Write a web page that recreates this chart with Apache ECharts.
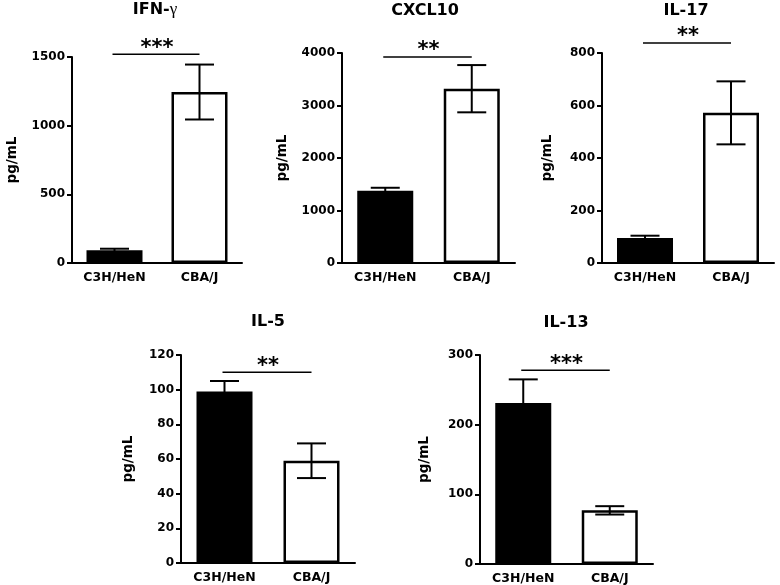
<!DOCTYPE html>
<html>
<head>
<meta charset="utf-8">
<script src="https://cdn.jsdelivr.net/npm/echarts@6/dist/echarts.min.js"></script>
<style>
html,body{margin:0;padding:0;background:#fff;}
#chart{width:780px;height:585px;}
</style>
</head>
<body>
<div id="chart"></div>
<script>
// ---- data ----
const categories = ['C3H/HeN', 'CBA/J'];
const panelTitles = ['IFN-{g|γ}', 'CXCL10', 'IL-17', 'IL-5', 'IL-13'];
const yAxisName = 'pg/mL';

const ifnMean = [92, 1245];
const ifnErr = [12, 200];
const cxclMean = [1375, 3320];
const cxclErr = [58, 450];
const il17Mean = [95, 572];
const il17Err = [9, 120];
const il5Mean = [99, 59];
const il5Err = [6, 10];
const il13Mean = [231, 77];
const il13Err = [34, 6];

const yMax = [1500, 4000, 800, 120, 300];
const yInterval = [500, 1000, 200, 20, 100];
const sigLabels = ['***', '**', '**', '**', '***'];
const sigLevel = [1520, 3924, 838, 110, 278];

// ---- layout ----
const means = [ifnMean, cxclMean, il17Mean, il5Mean, il13Mean];
const errs = [ifnErr, cxclErr, il17Err, il5Err, il13Err];
const grids = [
  {left: 72, top: 57, width: 170, height: 206},
  {left: 342, top: 53, width: 173, height: 210},
  {left: 602, top: 53, width: 172, height: 210},
  {left: 181, top: 355, width: 174, height: 208},
  {left: 480, top: 355, width: 173, height: 209}
];
const titleCenters = [[155, 10], [425, 12], [686, 12], [268, 323], [566, 324]];
const nameGaps = [53, 53, 48, 46, 49];

const FONT = 'DejaVu Sans';

const option = {
  animation: false,
  backgroundColor: '#fff',
  title: panelTitles.map((t, i) => ({
    text: t,
    left: titleCenters[i][0],
    top: titleCenters[i][1] - 9,
    textAlign: 'center',
    padding: 0,
    textStyle: {
      fontFamily: FONT, fontWeight: 'bold', fontSize: 16, color: '#000',
      rich: {g: {fontFamily: 'Liberation Serif', fontWeight: 'normal', fontSize: 17, color: '#000'}}
    }
  })),
  grid: grids.map(g => Object.assign({containLabel: false}, g)),
  xAxis: grids.map((g, i) => ({
    type: 'category',
    gridIndex: i,
    data: categories,
    axisLine: {lineStyle: {color: '#000', width: 2}},
    axisTick: {alignWithLabel: true, length: 5, lineStyle: {color: '#000', width: 2}},
    axisLabel: {color: '#000', fontFamily: FONT, fontWeight: 'bold', fontSize: 12.5, margin: 8},
    splitLine: {show: false}
  })),
  yAxis: grids.map((g, i) => ({
    type: 'value',
    gridIndex: i,
    min: 0,
    max: yMax[i],
    interval: yInterval[i],
    name: yAxisName,
    nameLocation: 'middle',
    nameGap: nameGaps[i],
    nameTextStyle: {color: '#000', fontFamily: FONT, fontWeight: 'bold', fontSize: 13.5},
    axisLine: {show: true, lineStyle: {color: '#000', width: 2}},
    axisTick: {show: true, length: 5, lineStyle: {color: '#000', width: 2}},
    axisLabel: {color: '#000', fontFamily: FONT, fontWeight: 'bold', fontSize: 12, margin: 7,
      formatter: v => String(v)},
    splitLine: {show: false}
  })),
  series: []
};

means.forEach((m, i) => {
  option.series.push({
    type: 'bar',
    xAxisIndex: i, yAxisIndex: i,
    barWidth: 56,
    data: m.map((v, j) => ({
      value: v,
      itemStyle: {color: j === 0 ? '#000' : '#fff', borderColor: '#000', borderWidth: 2.5}
    }))
  });
  option.series.push({
    type: 'custom',
    xAxisIndex: i, yAxisIndex: i,
    clip: false,
    z: 5,
    encode: {x: 0, y: 1},
    data: m.map((v, j) => [j, v, errs[i][j]]),
    renderItem: function (params, api) {
      const x = api.value(0), mv = api.value(1), e = api.value(2);
      const top = api.coord([x, mv + e]);
      const bot = api.coord([x, mv - e]);
      const half = 14.5;
      const st = {stroke: '#000', lineWidth: 2, fill: null};
      return {
        type: 'group',
        children: [
          {type: 'line', shape: {x1: top[0], y1: top[1], x2: bot[0], y2: bot[1]}, style: st},
          {type: 'line', shape: {x1: top[0] - half, y1: top[1], x2: top[0] + half, y2: top[1]}, style: st},
          {type: 'line', shape: {x1: bot[0] - half, y1: bot[1], x2: bot[0] + half, y2: bot[1]}, style: st}
        ]
      };
    }
  });
  option.series.push({
    type: 'custom',
    xAxisIndex: i, yAxisIndex: i,
    clip: false,
    z: 6,
    encode: {x: 0, y: 1},
    data: [[0, sigLevel[i]]],
    renderItem: function (params, api) {
      const lv = api.value(1);
      const p0 = api.coord([0, lv]);
      const p1 = api.coord([1, lv]);
      return {
        type: 'group',
        children: [
          {type: 'line', shape: {x1: p0[0] - 2, y1: p0[1], x2: p1[0], y2: p1[1]}, style: {stroke: '#000', lineWidth: 1.5}},
          {type: 'text', x: (p0[0] + p1[0]) / 2, y: p0[1] - 6,
           style: {text: sigLabels[i], fontFamily: FONT, fontWeight: 'bold', fontSize: 21, fill: '#000', align: 'center', verticalAlign: 'middle'}}
        ]
      };
    }
  });
});

const chart = echarts.init(document.getElementById('chart'), null, {renderer: 'canvas'});
chart.setOption(option);
</script>
</body>
</html>
